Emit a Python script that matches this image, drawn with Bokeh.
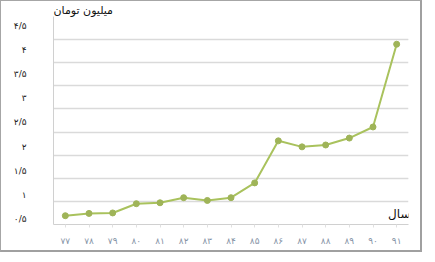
from bokeh.plotting import figure
from bokeh.models import (FactorRange, Range1d, LinearAxis, FixedTicker, Grid, Label)
from bokeh.embed import file_html
from bokeh.resources import INLINE

years = ["۷۷", "۷۸", "۷۹", "۸۰", "۸۱", "۸۲", "۸۳", "۸۴", "۸۵", "۸۶", "۸۷", "۸۸", "۸۹", "۹۰", "۹۱"]
values = [0.19, 0.24, 0.25, 0.45, 0.47, 0.58, 0.52, 0.58, 0.90, 1.81, 1.68, 1.72, 1.87, 2.11, 3.90]
y_ticks = [0.5, 1.0, 1.5, 2.0, 2.5, 3.0, 3.5, 4.0, 4.5]
y_tick_labels = ["۰/۵", "۱", "۱/۵", "۲", "۲/۵", "۳", "۳/۵", "۴", "۴/۵"]
grid_ticks = [0.5, 1.0, 1.5, 2.0, 2.5, 3.0, 3.5, 4.0, 4.5]
y_title = "میلیون تومان"
x_title = "سال"

FONT = "DejaVu Sans"

p = figure(x_range=FactorRange(*years), y_range=Range1d(0, 4.5),
           width=422, height=252, output_backend="svg", toolbar_location=None,
           y_axis_location=None, min_border_left=52, min_border_right=15,
           min_border_top=14, min_border_bottom=29)
p.styles = {"border": "1px solid #a6a6a6", "border-right": "2px solid #a0a0a0",
            "border-bottom": "2px solid #a0a0a0"}
p.outline_line_color = None
p.xgrid.visible = False
p.background_fill_color = "white"
p.border_fill_color = "white"

p.title.text = y_title
p.title.text_font = FONT
p.title.text_font_size = "11px"
p.title.text_font_style = "normal"
p.title.text_color = "#111111"
p.title.align = "left"
p.title.offset = 0
p.title.standoff = 0

p.add_layout(Grid(dimension=1, ticker=FixedTicker(ticks=grid_ticks),
                  grid_line_color="#dadada", grid_line_width=1.5))

# label axis (labels sit slightly below their gridlines, as in the source)
p.extra_y_ranges = {"lbl": Range1d(4.5 - (224 - 25) / 48.25, 4.5 + 10 / 48.25)}
ya = LinearAxis(y_range_name="lbl", ticker=FixedTicker(ticks=y_ticks))
ya.major_label_overrides = {t: s for t, s in zip(y_ticks, y_tick_labels)}
ya.major_label_text_font = FONT
ya.major_label_text_font_size = "9px"
ya.major_label_text_color = "#222222"
ya.major_label_standoff = 21
ya.major_tick_line_color = None
ya.minor_tick_line_color = None
ya.axis_line_color = "#d0d0d0"
p.add_layout(ya, "left")

xa = p.xaxis[0]
xa.major_label_text_font = FONT
xa.major_label_text_font_size = "9px"
xa.major_label_text_color = "#8593a6"
xa.major_label_standoff = 8
xa.axis_line_color = "#d0d0d0"
xa.major_tick_line_color = "#e0e0e0"
xa.major_tick_out = 3
xa.major_tick_in = 0

p.line(years, values, line_color="#a9c25d", line_width=2)
p.scatter(years, values, marker="circle", size=6, fill_color="#9fb458", line_color="#9fb458")

# screen units are relative to the frame's bottom-left corner
p.add_layout(Label(x=357, y=11, x_units="screen", y_units="screen", text=x_title,
                   text_font=FONT, text_font_size="12px", text_color="#111111",
                   text_align="right", text_baseline="middle"))

open("out.html", "w").write(file_html(p, INLINE))
